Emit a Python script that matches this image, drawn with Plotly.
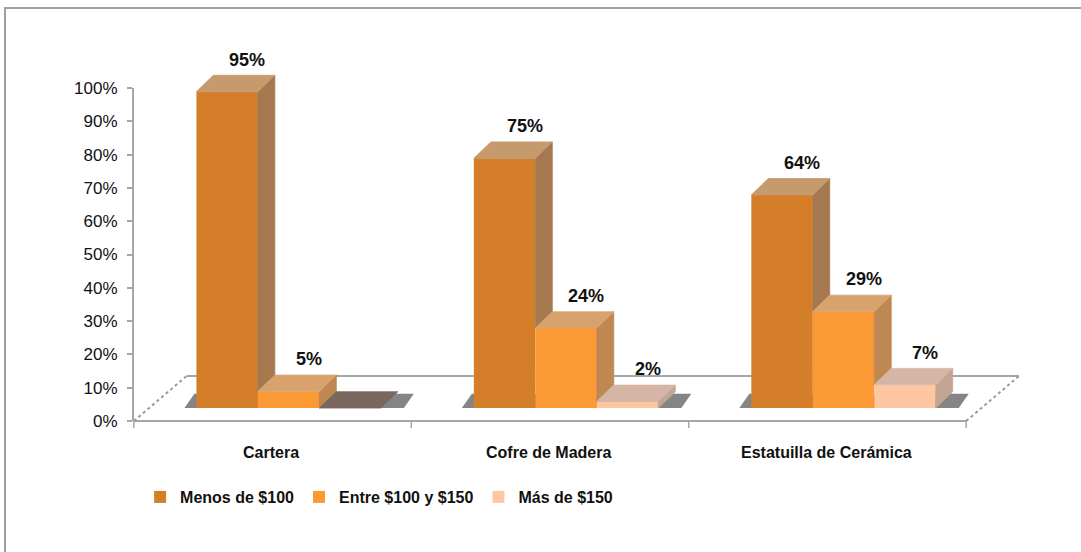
import plotly.graph_objects as go

# ---- data -------------------------------------------------------------
categorias = ["Cartera", "Cofre de Madera", "Estatuilla de Cerámica"]
series = ["Menos de $100", "Entre $100 y $150", "Más de $150"]
menos_100 = [95, 75, 64]
entre_100_150 = [5, 24, 29]
mas_150 = [0, 2, 7]
y_ticks = [0, 10, 20, 30, 40, 50, 60, 70, 80, 90, 100]
y_tick_text = [f"{t}%" for t in y_ticks]

valores = [menos_100, entre_100_150, mas_150]

# ---- styling ----------------------------------------------------------
col_front = ["#D47E2A", "#FB9A35", "#FFC7A1"]
col_top = ["#C59A6D", "#D8A26C", "#D5B6A6"]
col_side = ["#A57850", "#BF8752", "#C4A594"]
col_zero = "#7A675E"
col_shadow = "#858585"
col_axis = "#A6A6A6"

W = 0.2216      # bar width (category units)
OX, OY = 0.058, 3.9   # front face pushed back into the floor
DX, DY = 0.061, 4.9   # bar depth projection
FDX, FDY = 0.19, 13.5  # floor depth projection
PX = 1 / 277.5  # one screen pixel in category units

FONT = "Liberation Sans, Arial, sans-serif"

# vertical range padded so labels above/below the 0-100 scale stay visible
Y_LO, Y_HI = -15, 115

fig = go.Figure()

# ---- front faces (real bars) -----------------------------------------
centers = []
for s, name in enumerate(series):
    xs = [i + OX + (s - 1) * W for i in range(len(categorias))]
    centers.append(xs)
    fig.add_trace(go.Bar(
        x=xs, y=valores[s], base=OY, width=W, name=name,
        marker=dict(color=col_front[s], line=dict(width=0)),
        hoverinfo="skip",
    ))

# ---- side and top faces (3D projection of the bars) -------------------
for s in range(len(series)):
    sx, sy, tx, ty, zx, zy = [], [], [], [], [], []
    for i in range(len(categorias)):
        v = valores[s][i]
        xc = centers[s][i]
        x0, x1 = xc - W / 2, xc + W / 2
        top = OY + v
        nxt = valores[s + 1][i] if s + 1 < len(series) else 0
        bottom = OY + nxt
        if bottom < top:
            sx += [x1, x1 + DX, x1 + DX, x1, x1, None]
            sy += [bottom, bottom + DY, top + DY, top, bottom, None]
        px_ = [x0, x1, x1 + DX, x0 + DX, x0, None]
        py_ = [top, top, top + DY, top + DY, top, None]
        if v == 0:
            zx += px_
            zy += py_
        else:
            tx += px_
            ty += py_
    for xx, yy, c in ((sx, sy, col_side[s]), (tx, ty, col_top[s]), (zx, zy, col_zero)):
        if xx:
            fig.add_trace(go.Scatter(
                x=xx, y=yy, mode="lines", fill="toself", fillcolor=c,
                line=dict(color=c, width=0.8), showlegend=False, hoverinfo="skip",
            ))

# ---- value labels -----------------------------------------------------
for s in range(len(series)):
    for i in range(len(categorias)):
        v = valores[s][i]
        if v == 0:
            continue
        fig.add_annotation(
            x=centers[s][i] + 20 * PX, y=OY + v + 9.6, xref="x", yref="y",
            text=f"{v}%", showarrow=False,
            font=dict(family=FONT, size=18, color="#111111", weight="bold"),
        )

# ---- category labels ---------------------------------------------------
for i, c in enumerate(categorias):
    fig.add_annotation(
        x=i - 0.005, y=-9.3, xref="x", yref="y", text=c, showarrow=False,
        font=dict(family=FONT, size=16, color="#111111", weight="bold"),
    )

# ---- floor, shadows, axis line, frame ---------------------------------
shapes = []
n = len(categorias)
fl, fr = -0.5, n - 0.5
shapes.append(dict(type="line", xref="x", yref="y", x0=fl, y0=0, x1=fr, y1=0,
                   line=dict(color=col_axis, width=2), layer="below"))
shapes.append(dict(type="line", xref="x", yref="y", x0=fl + FDX, y0=FDY, x1=fr + FDX, y1=FDY,
                   line=dict(color=col_axis, width=2), layer="below"))
for xe in (fl, fr):
    shapes.append(dict(type="line", xref="x", yref="y", x0=xe, y0=0, x1=xe + FDX, y1=FDY,
                       line=dict(color="#9A9A9A", width=2, dash="dot"), layer="below"))
for k in range(n + 1):
    xb = fl + k
    shapes.append(dict(type="line", xref="x", yref="y", x0=xb, y0=0, x1=xb, y1=-2.1,
                       line=dict(color=col_axis, width=1.5), layer="below"))
for i in range(n):
    gx0 = i + OX - 1.5 * W
    gx1 = i + OX + 1.5 * W
    path = (f"M{gx0 - 12 * PX},{OY} L{gx1 + 23 * PX},{OY} "
            f"L{gx1 + 33 * PX},{OY + 4.3} L{gx0 - 2 * PX},{OY + 4.3} Z")
    shapes.append(dict(type="path", xref="x", yref="y", path=path,
                       fillcolor=col_shadow, line=dict(width=0), layer="below"))

# value axis line spanning only the 0-100 % scale
shapes.append(dict(type="line", xref="paper", yref="y", x0=0, y0=y_ticks[0], x1=0, y1=y_ticks[-1],
                   line=dict(color=col_axis, width=2), layer="below"))

# outer chart frame (left and top edges visible)
px_per_unit = (421 - 88) / 100
T = int(round(88 - (Y_HI - 100) * px_per_unit))
B = int(round(552 - (421 - Y_LO * px_per_unit)))
L, R = 133, 61
PW, PH = 1081 - L - R, 552 - T - B
bottom_px = 552 - B
shapes.append(dict(type="rect", xref="paper", yref="paper",
                   x0=(5 - L) / PW, x1=(1095 - L) / PW,
                   y0=(bottom_px - 570) / PH, y1=(bottom_px - 8) / PH,
                   line=dict(color="#A0A0A0", width=2), layer="below"))

fig.update_layout(
    width=1081, height=552,
    margin=dict(l=L, r=R, t=T, b=B),
    paper_bgcolor="white", plot_bgcolor="white",
    barmode="overlay",
    shapes=shapes,
    showlegend=True,
    legend=dict(
        orientation="h", x=0.008, y=(bottom_px - 497) / PH,
        xanchor="left", yanchor="middle",
        font=dict(family=FONT, size=16, color="#111111", weight="bold"),
        itemwidth=30, bgcolor="rgba(0,0,0,0)",
    ),
    xaxis=dict(range=[-0.503, 2.694], visible=False, fixedrange=True),
    yaxis=dict(
        range=[Y_LO, Y_HI], tickvals=y_ticks, ticktext=y_tick_text,
        showgrid=False, zeroline=False, showline=False,
        ticks="outside", ticklen=5, tickcolor=col_axis, tickwidth=1.5,
        ticklabelstandoff=6,
        tickfont=dict(family=FONT, size=17, color="#111111"),
        fixedrange=True,
    ),
)

fig.write_html("out.html")
